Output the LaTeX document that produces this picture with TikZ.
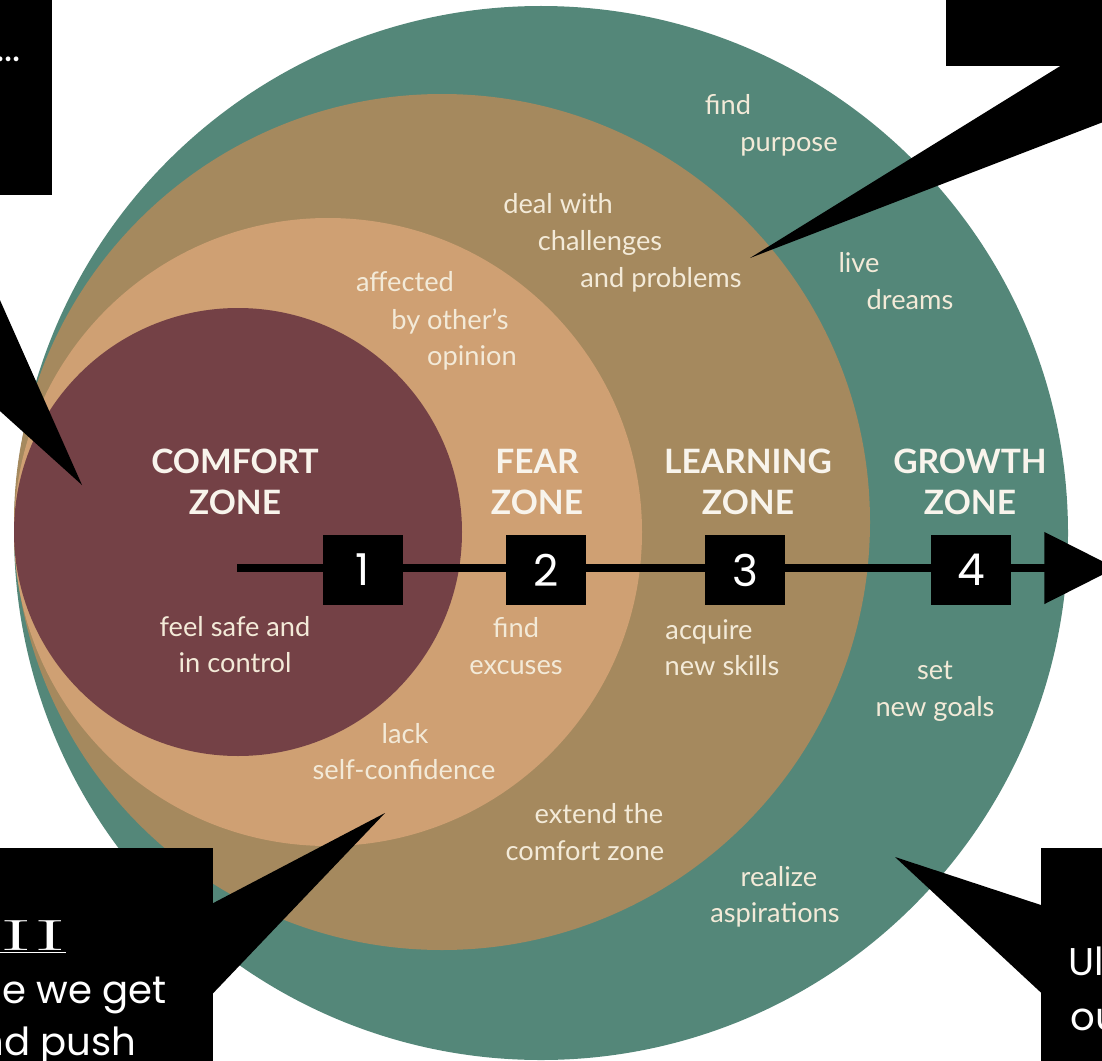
\documentclass[tikz,border=0pt]{standalone}
\usepackage[no-math]{fontspec}
\setmainfont{Lato}
\newfontfamily\handfont{Poppins}
\usetikzlibrary{arrows.meta}

\definecolor{growthcol}{RGB}{84,135,121}
\definecolor{learncol}{RGB}{165,137,94}
\definecolor{fearcol}{RGB}{207,160,115}
\definecolor{comfortcol}{RGB}{116,65,70}
\definecolor{notecol}{RGB}{243,234,216}
\definecolor{titlecol}{RGB}{248,244,236}

\tikzset{
	zonetitle/.style={text=titlecol, align=center, inner sep=0pt, font=\fontsize{19.1}{23.2}\selectfont\bfseries},
	zonenote/.style={text=notecol, anchor=base, inner sep=0pt, font=\fontsize{15.5}{21}\selectfont},
	stagebox/.style={fill=black, text=white, minimum width=45.4pt, minimum height=40.2pt, inner sep=0pt, font=\handfont\fontsize{25}{25}\selectfont},
	bubble/.style={fill=black},
	bubbletext/.style={text=white, inner sep=0pt, font=\handfont\fontsize{22}{29}\selectfont}
}

\begin{document}
\begin{tikzpicture}[x=0.02cm, y=-0.02cm]
	\useasboundingbox (0,0) rectangle (1102,1061);
	\clip (0,0) rectangle (1102,1061);

	% ZONES
	\fill[growthcol] (541,533) circle [radius=527];
	\fill[learncol] (442,522) circle [radius=428];
	\fill[fearcol] (328,532) circle [radius=314];
	\fill[comfortcol] (238,532) circle [radius=224];

	% TITLES
	\node[zonetitle] (comfort) at (235,482) {COMFORT\\ZONE};
	\node[zonetitle] (fear) at (537,482) {FEAR\\ZONE};
	\node[zonetitle] (learning) at (748,482) {LEARNING\\ZONE};
	\node[zonetitle] (growth) at (970,482) {GROWTH\\ZONE};

	% NOTES
	\node[zonenote] (purpose1) at (728,114) {find};
	\node[zonenote] (purpose2) at (789,152) {purpose};
	\node[zonenote] (deal1) at (558,213) {deal with};
	\node[zonenote] (deal2) at (600,250) {challenges};
	\node[zonenote] (deal3) at (661,287) {and problems};
	\node[zonenote] (dreams1) at (859,272) {live};
	\node[zonenote] (dreams2) at (910,309) {dreams};
	\node[zonenote] (opinion1) at (405,291) {affected};
	\node[zonenote] (opinion2) at (450,329) {by other's};
	\node[zonenote] (opinion3) at (472,365) {opinion};
	\node[zonenote] (safe1) at (235,636) {feel safe and};
	\node[zonenote] (safe2) at (235,672) {in control};
	\node[zonenote] (excuses1) at (516,637) {find};
	\node[zonenote] (excuses2) at (516,674) {excuses};
	\node[zonenote] (skills1) at (709,639) {acquire};
	\node[zonenote] (skills2) at (722,675) {new skills};
	\node[zonenote] (goals1) at (935,679) {set};
	\node[zonenote] (goals2) at (935,716) {new goals};
	\node[zonenote] (lack1) at (405,743) {lack};
	\node[zonenote] (lack2) at (404,779) {self-confidence};
	\node[zonenote] (extend1) at (599,823) {extend the};
	\node[zonenote] (extend2) at (585,860) {comfort zone};
	\node[zonenote] (aspire1) at (779,886) {realize};
	\node[zonenote] (aspire2) at (775,922) {aspirations};

	% PATH
	\coordinate (start) at (237,568);
	\coordinate (end) at (1116,568);
	\draw[line width=5.1pt, -{Triangle[length=40.8pt,width=39.7pt]}] (start) -- (end);
	\node[stagebox] (s1) at (363,570) {1};
	\node[stagebox] (s2) at (546,570) {2};
	\node[stagebox] (s3) at (745,570) {3};
	\node[stagebox] (s4) at (971,570) {4};

	% CALLOUTS
	\fill[bubble] (-60,-10) rectangle (52,195);
	\fill[bubble] (-40,210) -- (82,485) -- (-40,375) -- cycle;
	\node[bubbletext, anchor=base east] (dots) at (21,62) {...};

	\fill[bubble] (946,-10) rectangle (1150,66);
	\fill[bubble] (1070,60) -- (750,258) -- (1150,104) -- (1150,60) -- cycle;

	\fill[bubble] (-10,848) rectangle (213,1070);
	\fill[bubble] (200,910) -- (385,813) -- (200,1007) -- cycle;
	\node[bubbletext, anchor=base east] (stage) at (66,950) {\underline{\scalebox{2.2}[1]{\fontsize{33}{33}\selectfont$\mathrm{II}$}}};
	\node[bubbletext, anchor=base east] (getline) at (167,1003) {e we get};
	\node[bubbletext, anchor=base east] (pushline) at (137,1055) {nd push};

	\fill[bubble] (1041,848) rectangle (1150,1070);
	\fill[bubble] (1050,908) -- (895,857) -- (1050,1001) -- cycle;
	\node[bubbletext, anchor=base west] (ulline) at (1068,975) {Ul};
	\node[bubbletext, anchor=base west] (ouline) at (1070,1030) {ou};
\end{tikzpicture}
\end{document}
